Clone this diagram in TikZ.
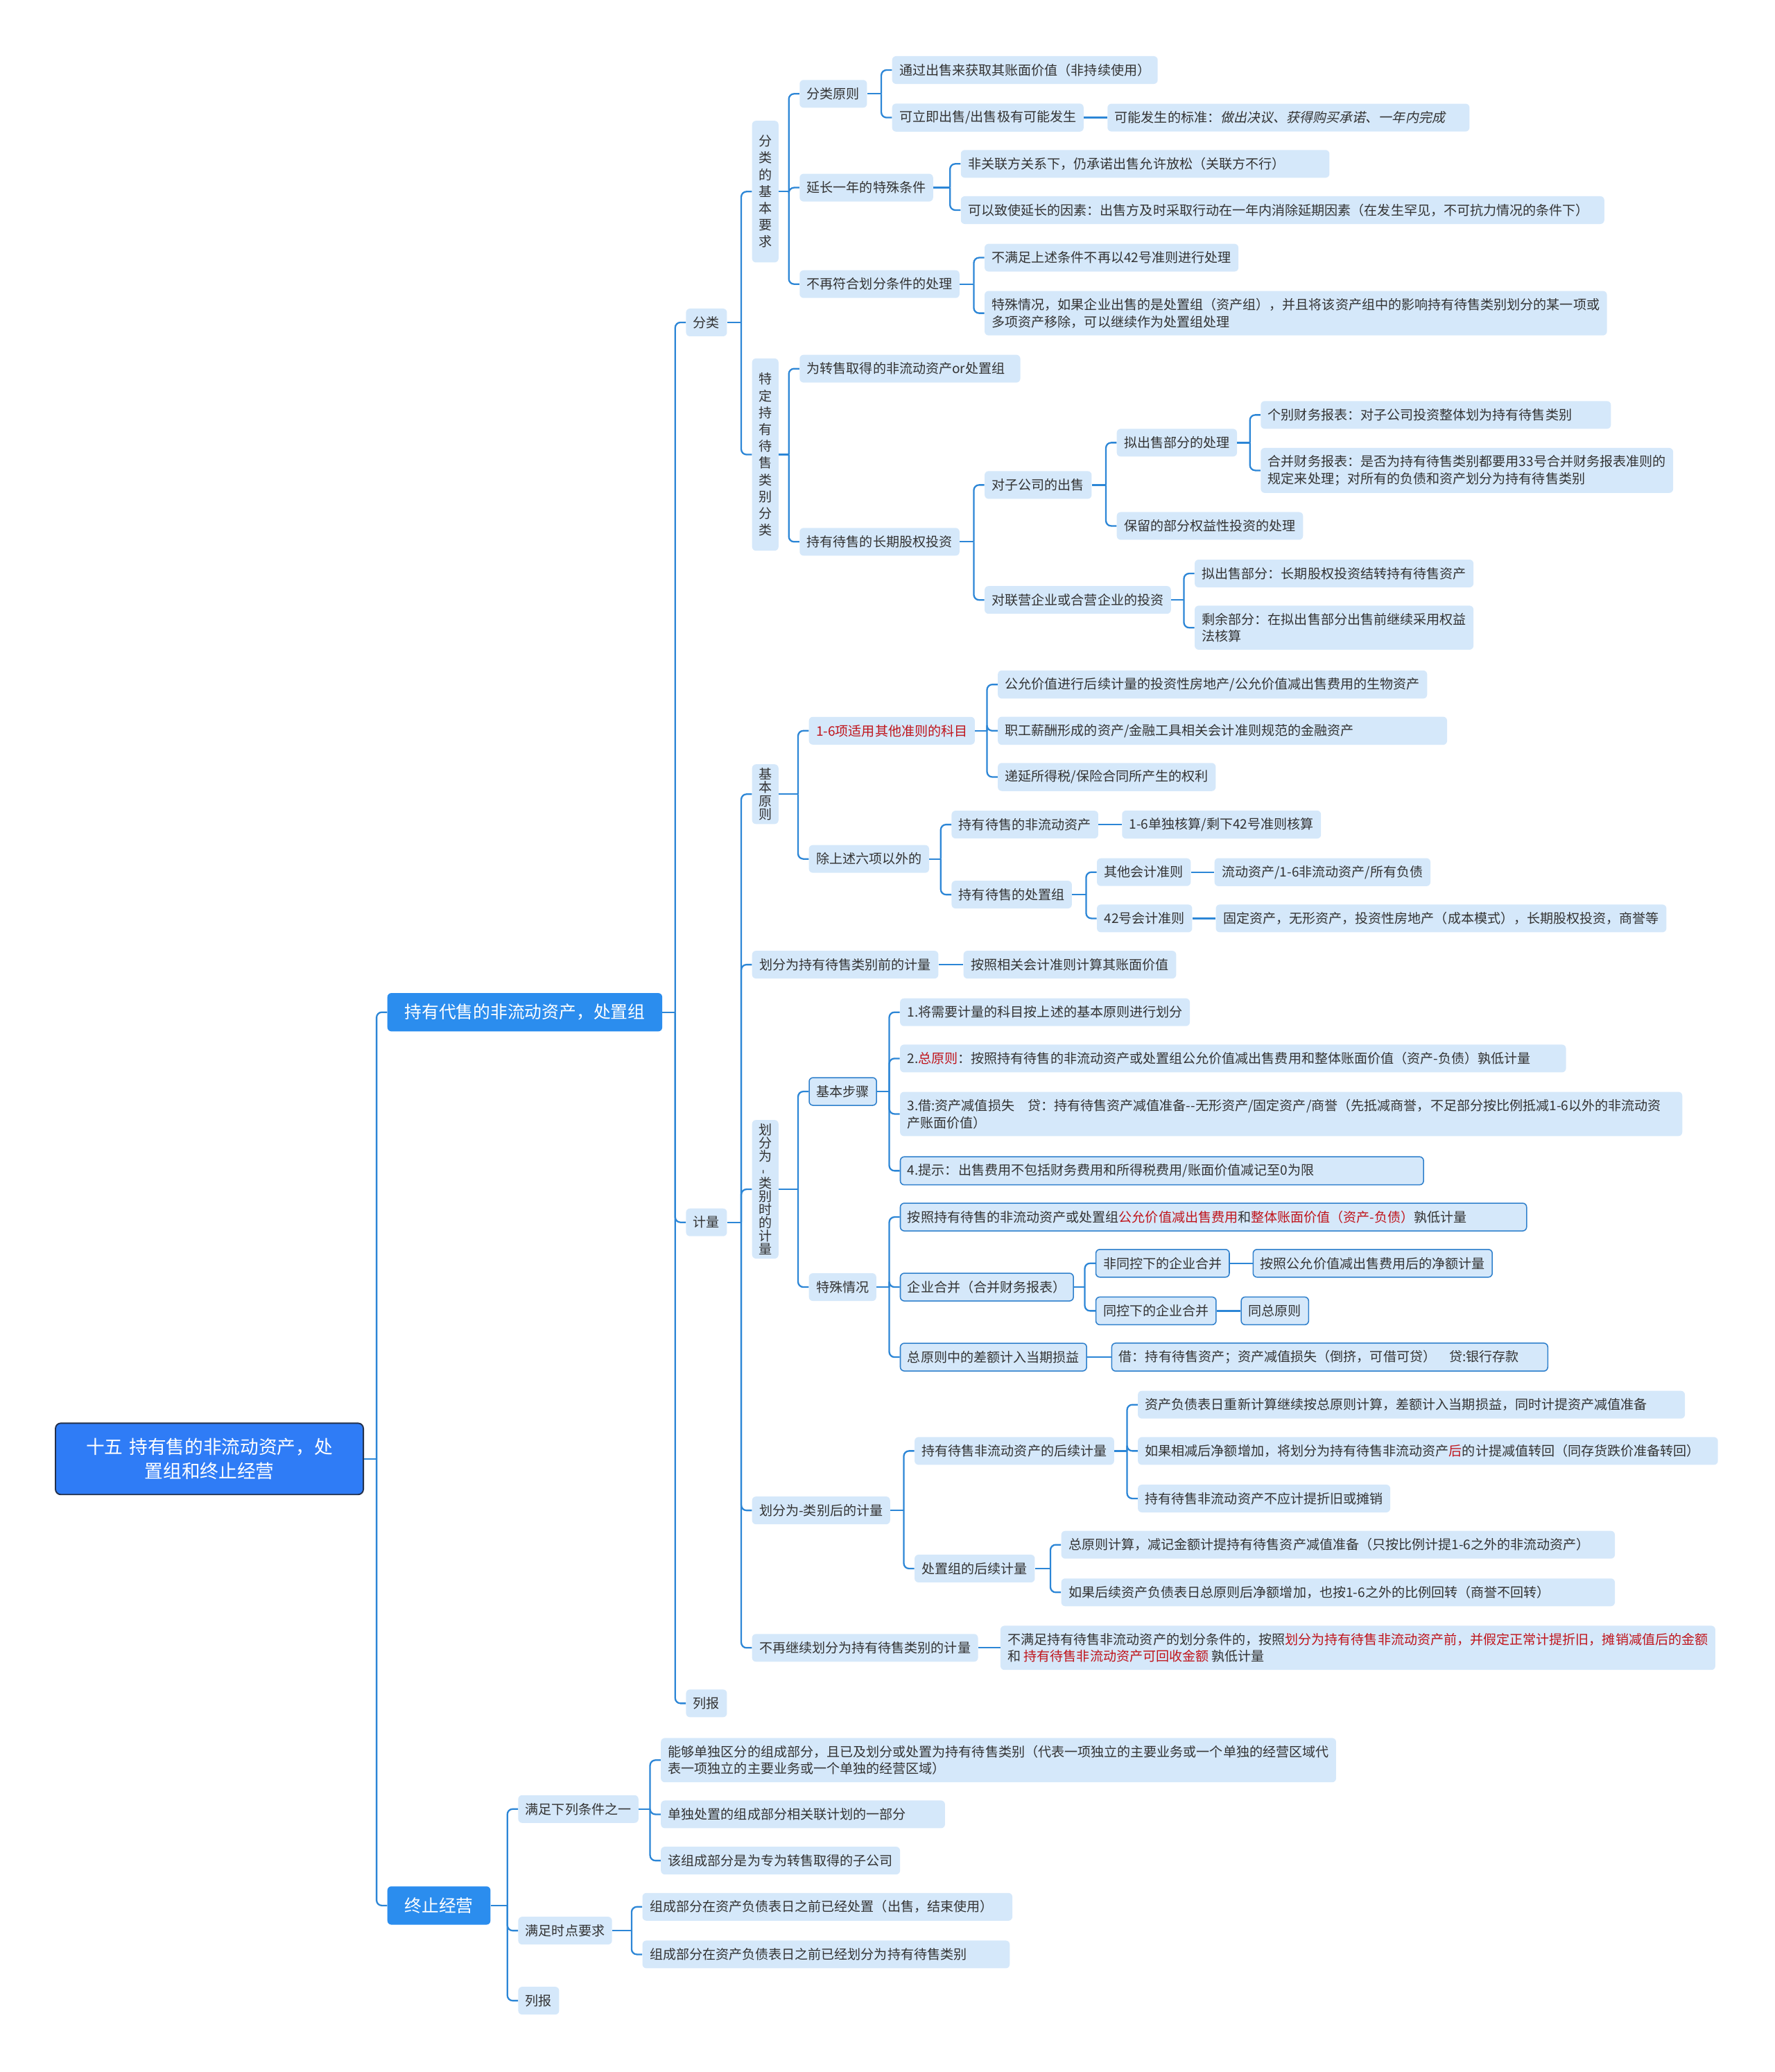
\documentclass[tikz,border=0pt]{standalone}
\usepackage{fontspec}
\setmainfont{Noto Sans CJK SC}
\newfontfamily\tiltfont[FakeSlant=0.2]{Noto Sans CJK SC}
\usepackage{xcolor}
\usepackage{tikz}

\definecolor{leaf}{HTML}{D5E8FA}
\definecolor{ink}{HTML}{333333}
\definecolor{hot}{HTML}{C0141B}
\definecolor{linkblue}{HTML}{2C86D6}
\definecolor{rimblue}{HTML}{2F80CC}
\definecolor{topicblue}{HTML}{2B8DEE}
\definecolor{rootblue}{HTML}{2F7CF6}
\definecolor{rootrim}{HTML}{23304A}

\tikzset{
  box/.style={anchor=west, fill=leaf, rounded corners=3pt, inner xsep=5.5pt, inner ysep=5.5pt,
    minimum height=21pt, text=ink, align=left, font=\fontsize{10}{13}\selectfont},
  rim/.style={box, draw=rimblue, line width=0.8pt},
  vbox/.style={box, align=center, inner xsep=5pt, inner ysep=11pt, font=\fontsize{10}{12.7}\selectfont},
  vtight/.style={vbox, inner ysep=3pt, font=\fontsize{10}{10}\selectfont},
  topic/.style={anchor=west, fill=topicblue, rounded corners=3pt, text=white, inner xsep=13pt,
    minimum height=29pt, font=\fontsize{13}{16}\selectfont},
  rootbox/.style={fill=rootblue, draw=rootrim, line width=1pt, rounded corners=4pt, text=white,
    minimum width=233pt, minimum height=54pt, text width=215pt, align=center,
    font=\fontsize{14}{18}\selectfont},
  conn/.style={draw=linkblue, line width=1.2pt},
}

% parent -> child: stub, spine, rounded corner into the child
\newcommand{\twig}[2]{%
  \path (#2.west) ++(-8pt,0) coordinate (sp);
  \draw[conn] (#1.east) -- (sp |- #1.east);
  \draw[conn, rounded corners=4pt] (sp |- #1.east) -- (sp) -- (#2.west);}

\begin{document}
\begin{tikzpicture}[x=1pt,y=-1pt]
\useasboundingbox (0,0) rectangle (1343,1568);

\node[rootbox] (root) at (158.5,1104) {十五 持有售的非流动资产，处\\置组和终止经营};
\node[topic] (hs) at (293,766) {持有代售的非流动资产，处置组};
\node[topic] (zz) at (293,1442) {终止经营};

\node[box] (fl) at (519,244) {分类};
\node[box] (jl) at (519,925) {计量};
\node[box] (lb) at (519,1289) {列报};
\node[box] (tj) at (392,1369) {满足下列条件之一};
\node[box] (sd) at (392,1461) {满足时点要求};
\node[box] (lbz) at (392,1514) {列报};

% 分类
\node[vbox] (jbyq) at (569,145) {分\\类\\的\\基\\本\\要\\求};
\node[vbox] (tdfl) at (569,344) {特\\定\\持\\有\\待\\售\\类\\别\\分\\类};
\node[box] (flyz) at (605,71) {分类原则};
\node[box] (ycyn) at (605,142) {延长一年的特殊条件};
\node[box] (bzfh) at (605,215) {不再符合划分条件的处理};
\node[box] (fy1) at (675,53) {通过出售来获取其账面价值（非持续使用）};
\node[box] (fy2) at (675,89) {可立即出售/出售极有可能发生};
\node[box,text width=263pt] (fy3) at (838,89) {可能发生的标准：{\tiltfont 做出决议、获得购买承诺、一年内完成}};
\node[box,text width=268pt] (yc1) at (727,124) {非关联方关系下，仍承诺出售允许放松（关联方不行）};
\node[box,text width=476pt] (yc2) at (727,159) {可以致使延长的因素：出售方及时采取行动在一年内消除延期因素（在发生罕见，不可抗力情况的条件下）};
\node[box] (bz1) at (745,195) {不满足上述条件不再以42号准则进行处理};
\node[box] (bz2) at (745,237) {特殊情况，如果企业出售的是处置组（资产组），并且将该资产组中的影响持有待售类别划分的某一项或\\多项资产移除，可以继续作为处置组处理};
\node[box,text width=156pt] (zs) at (605,279) {为转售取得的非流动资产or处置组};
\node[box] (cq) at (605,410) {持有待售的长期股权投资};
\node[box] (dz) at (745,367) {对子公司的出售};
\node[box] (dl) at (745,454) {对联营企业或合营企业的投资};
\node[box] (nc) at (845,335) {拟出售部分的处理};
\node[box] (bl) at (845,398) {保留的部分权益性投资的处理};
\node[box,text width=254pt] (gb) at (954,314) {个别财务报表：对子公司投资整体划为持有待售类别};
\node[box] (hb) at (954,356) {合并财务报表：是否为持有待售类别都要用33号合并财务报表准则的\\规定来处理；对所有的负债和资产划分为持有待售类别};
\node[box] (nb) at (904,434) {拟出售部分：长期股权投资结转持有待售资产};
\node[box] (sy) at (904,475) {剩余部分：在拟出售部分出售前继续采用权益\\法核算};

% 计量
\node[vtight] (jbyz) at (569,601) {基\\本\\原\\则};
\node[box] (hqj) at (569,730) {划分为持有待售类别前的计量};
\node[vtight] (hsj) at (569,900) {划\\分\\为\\\rotatebox{90}{-}\\类\\别\\时\\的\\计\\量};
\node[box] (hhj) at (569,1143) {划分为-类别后的计量};
\node[box] (bzx) at (569,1247) {不再继续划分为持有待售类别的计量};

\node[box,text=hot] (ly) at (612,553) {1-6项适用其他准则的科目};
\node[box] (cs) at (612,650) {除上述六项以外的};
\node[box] (ly1) at (755,518) {公允价值进行后续计量的投资性房地产/公允价值减出售费用的生物资产};
\node[box,text width=329pt] (ly2) at (755,553) {职工薪酬形成的资产/金融工具相关会计准则规范的金融资产};
\node[box] (ly3) at (755,588) {递延所得税/保险合同所产生的权利};
\node[box] (cf) at (720,624) {持有待售的非流动资产};
\node[box] (cz) at (720,677) {持有待售的处置组};
\node[box] (cf1) at (849,624) {1-6单独核算/剩下42号准则核算};
\node[box] (qt) at (830,660) {其他会计准则};
\node[box] (h42) at (830,695) {42号会计准则};
\node[box] (qt1) at (919,660) {流动资产/1-6非流动资产/所有负债};
\node[box] (h421) at (920,695) {固定资产，无形资产，投资性房地产（成本模式），长期股权投资，商誉等};
\node[box] (hqj1) at (729,730) {按照相关会计准则计算其账面价值};

\node[rim] (bzbz) at (612,826) {基本步骤};
\node[box] (tsqk) at (612,974) {特殊情况};
\node[box] (s1) at (681,766) {1.将需要计量的科目按上述的基本原则进行划分};
\node[box,text width=493pt] (s2) at (681,801) {2.\textcolor{hot}{总原则}：按照持有待售的非流动资产或处置组公允价值减出售费用和整体账面价值（资产-负债）孰低计量};
\node[box,text width=581pt] (s3) at (681,843) {3.借:资产减值损失\quad 贷：持有待售资产减值准备-{}-无形资产/固定资产/商誉（先抵减商誉，不足部分按比例抵减1-6以外的非流动资\\产账面价值）};
\node[rim,text width=385pt] (s4) at (681,886) {4.提示：出售费用不包括财务费用和所得税费用/账面价值减记至0为限};
\node[rim,text width=463pt] (t1) at (681,921) {按照持有待售的非流动资产或处置组\textcolor{hot}{公允价值减出售费用}和\textcolor{hot}{整体账面价值（资产-负债）}孰低计量};
\node[rim] (t2) at (681,974) {企业合并（合并财务报表）};
\node[rim] (t3) at (681,1027) {总原则中的差额计入当期损益};
\node[rim] (fc) at (829,956) {非同控下的企业合并};
\node[rim] (tk) at (829,992) {同控下的企业合并};
\node[rim] (fc1) at (948,956) {按照公允价值减出售费用后的净额计量};
\node[rim] (tk1) at (939,992) {同总原则};
\node[rim,text width=319pt] (t31) at (841,1027) {借：持有待售资产；资产减值损失（倒挤，可借可贷）\quad 贷:银行存款};

\node[box] (hx) at (692,1098) {持有待售非流动资产的后续计量};
\node[box] (cx) at (692,1187) {处置组的后续计量};
\node[box,text width=403pt] (hx1) at (861,1063) {资产负债表日重新计算继续按总原则计算，差额计入当期损益，同时计提资产减值准备};
\node[box,text width=428pt] (hx2) at (861,1098) {如果相减后净额增加，将划分为持有待售非流动资产\textcolor{hot}{后}的计提减值转回（同存货跌价准备转回）};
\node[box] (hx3) at (861,1134) {持有待售非流动资产不应计提折旧或摊销};
\node[box,text width=408pt] (cx1) at (803,1169) {总原则计算，减记金额计提持有待售资产减值准备（只按比例计提1-6之外的非流动资产）};
\node[box,text width=408pt] (cx2) at (803,1205) {如果后续资产负债表日总原则后净额增加，也按1-6之外的比例回转（商誉不回转）};
\node[box] (bzx1) at (757,1247) {不满足持有待售非流动资产的划分条件的，按照\textcolor{hot}{划分为持有待售非流动资产前，并假定正常计提折旧，摊销减值后的金额}\\ 和 \textcolor{hot}{持有待售非流动资产可回收金额} 孰低计量};

% 终止经营
\node[box] (tj1) at (500,1332) {能够单独区分的组成部分，且已及划分或处置为持有待售类别（代表一项独立的主要业务或一个单独的经营区域代\\表一项独立的主要业务或一个单独的经营区域）};
\node[box,text width=204pt] (tj2) at (500,1373) {单独处置的组成部分相关联计划的一部分};
\node[box] (tj3) at (500,1408) {该组成部分是为专为转售取得的子公司};
\node[box,text width=269pt] (sd1) at (486,1443) {组成部分在资产负债表日之前已经处置（出售，结束使用）};
\node[box,text width=267pt] (sd2) at (486,1479) {组成部分在资产负债表日之前已经划分为持有待售类别};

\foreach \p/\c in {root/hs, root/zz, hs/fl, hs/jl, hs/lb, zz/tj, zz/sd, zz/lbz,
    fl/jbyq, fl/tdfl, jbyq/flyz, jbyq/ycyn, jbyq/bzfh, flyz/fy1, flyz/fy2,
    ycyn/yc1, ycyn/yc2, bzfh/bz1, bzfh/bz2, tdfl/zs, tdfl/cq, cq/dz, cq/dl,
    dz/nc, dz/bl, nc/gb, nc/hb, dl/nb, dl/sy,
    jl/jbyz, jl/hqj, jl/hsj, jl/hhj, jl/bzx, jbyz/ly, jbyz/cs, ly/ly1, ly/ly2, ly/ly3,
    cs/cf, cs/cz, cz/qt, cz/h42,
    hsj/bzbz, hsj/tsqk, bzbz/s1, bzbz/s2, bzbz/s3, bzbz/s4, tsqk/t1, tsqk/t2, tsqk/t3,
    t2/fc, t2/tk, hhj/hx, hhj/cx, hx/hx1, hx/hx2, hx/hx3,
    cx/cx1, cx/cx2, tj/tj1, tj/tj2, tj/tj3, sd/sd1, sd/sd2}
  \twig{\p}{\c};

% single children: straight
\foreach \p/\c in {fy2/fy3, cf/cf1, qt/qt1, h42/h421, hqj/hqj1, fc/fc1, tk/tk1, t3/t31, bzx/bzx1}
  \draw[conn] (\p.east) -- (\p.east -| \c.west);
\end{tikzpicture}
\end{document}
